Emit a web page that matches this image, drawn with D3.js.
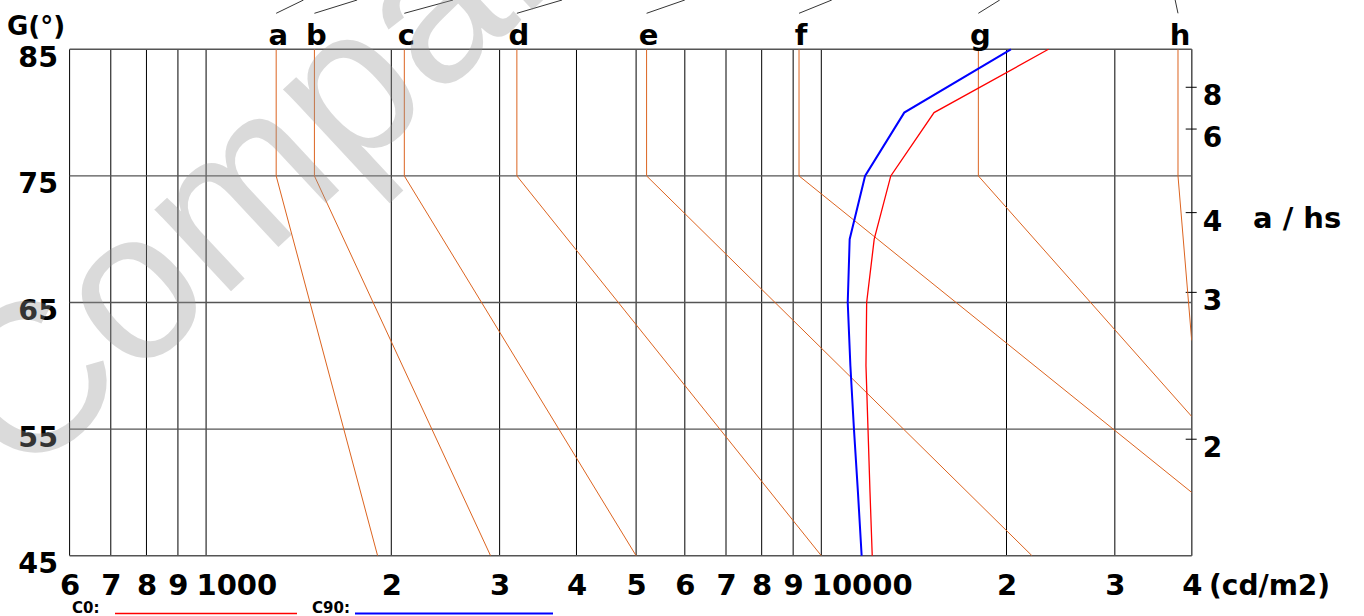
<!DOCTYPE html>
<html>
<head>
<meta charset="utf-8">
<script src="https://cdn.jsdelivr.net/npm/d3@7"></script>
<style>
  body { margin: 0; background: #fff; }
  svg text { font-family: "DejaVu Sans", Verdana, sans-serif; font-weight: bold; fill: #000; }
</style>
</head>
<body>
<svg id="chart" width="1364" height="616"></svg>
<script>
// luminance axis (cd/m2), log
var lumTicks = [600, 700, 800, 900, 1000, 2000, 3000, 4000, 5000, 6000, 7000, 8000, 9000, 10000, 20000, 30000, 40000];
var lumTickLabels = ["6", "7", "8", "9", "1000", "2", "3", "4", "5", "6", "7", "8", "9", "10000", "2", "3", "4"];

// G angle axis
var gTicks = [85, 75, 65, 55, 45];

// a / hs axis on the right, labels and the G value they sit at
var ahsLabels = ["8", "6", "4", "3", "2"];
var ahsAtG = [82.0, 78.7, 72.1, 65.8, 54.2];

// the orange a..h lines: luminance at top (85 to 75), then slanting to an end point
var lineNames = ["a", "b", "c", "d", "e", "f", "g", "h"];
var lineTop = [1300, 1500, 2100, 3200, 5200, 9200, 18000, 38000];
var lineEnd = [1900, 2900, 5000, 10000, 22000, 40000, 40000, 40000];
var lineEndG = [45, 45, 45, 45, 45, 50, 56, 62];
var leaderEnd = [1440, 1760, 2520, 3790, 6000, 10400, 19500, 37600];

// luminance curves
var curveG = [85, 80, 75, 70, 65, 60, 55, 50, 45];
var c0 = [23400, 15250, 12970, 12190, 11850, 11820, 11910, 12000, 12100];
var c90 = [20330, 13640, 11780, 11120, 11040, 11150, 11300, 11470, 11630];

var svg = d3.select("#chart");

var x = d3.scaleLog().domain([600, 40000]).range([69.6, 1191.7]);
var y = d3.scaleLinear().domain([45, 85]).range([555.7, 49.3]);

var plotLeft = x(600), plotRight = x(40000), plotTop = y(85), plotBottom = y(45);

svg.append("clipPath").attr("id", "plot")
    .append("rect")
    .attr("x", plotLeft).attr("y", plotTop)
    .attr("width", plotRight - plotLeft).attr("height", plotBottom - plotTop);

// vertical grid
svg.append("g").selectAll("line")
    .data(lumTicks)
    .enter().append("line")
    .attr("x1", function(d) { return x(d); })
    .attr("x2", function(d) { return x(d); })
    .attr("y1", plotTop).attr("y2", plotBottom)
    .attr("stroke", "#000").attr("stroke-width", 1);

// horizontal grid
svg.append("g").selectAll("line")
    .data(gTicks)
    .enter().append("line")
    .attr("x1", plotLeft).attr("x2", plotRight)
    .attr("y1", function(d) { return y(d); })
    .attr("y2", function(d) { return y(d); })
    .attr("stroke", "#555").attr("stroke-width", 1.4);

svg.append("line")
    .attr("x1", plotRight).attr("x2", plotRight).attr("y1", plotTop).attr("y2", plotBottom)
    .attr("stroke", "#555").attr("stroke-width", 1.4);

// right axis ticks and labels
var ahs = svg.append("g");
ahs.selectAll("line")
    .data(ahsAtG)
    .enter().append("line")
    .attr("x1", plotRight - 6).attr("x2", plotRight + 5)
    .attr("y1", function(d) { return y(d); })
    .attr("y2", function(d) { return y(d); })
    .attr("stroke", "#000").attr("stroke-width", 1);
ahs.selectAll("text")
    .data(ahsAtG)
    .enter().append("text")
    .attr("x", plotRight + 11)
    .attr("y", function(d) { return y(d) + 18; })
    .style("font-size", "28px")
    .text(function(d, i) { return ahsLabels[i]; });

svg.append("text")
    .attr("x", 1253).attr("y", y(ahsAtG[2]) + 15)
    .style("font-size", "29px")
    .text("a / hs");

// left labels
svg.append("g").selectAll("text")
    .data(gTicks)
    .enter().append("text")
    .attr("x", 58)
    .attr("y", function(d) { return y(d) + 17.5; })
    .attr("text-anchor", "end")
    .style("font-size", "28.5px")
    .text(function(d) { return d; });

svg.append("text")
    .attr("x", 7).attr("y", 35)
    .style("font-size", "26px")
    .text("G(°)");

// bottom labels, first digit centred on the tick
svg.append("g").selectAll("text")
    .data(lumTicks)
    .enter().append("text")
    .attr("x", function(d) { return x(d); })
    .attr("y", plotBottom + 39)
    .attr("dx", "-0.33em")
    .style("font-size", "29px")
    .text(function(d, i) { return lumTickLabels[i]; });

svg.append("text")
    .attr("x", 1209).attr("y", plotBottom + 39)
    .style("font-size", "28px")
    .text("(cd/m2)");

// orange lines
var lines = lineNames.map(function(n, i) {
    return { name: n, pts: [[lineTop[i], 85], [lineTop[i], 75], [lineEnd[i], lineEndG[i]]], lead: leaderEnd[i], top: lineTop[i] };
});

var line = d3.line()
    .x(function(p) { return x(p[0]); })
    .y(function(p) { return y(p[1]); });

svg.append("g").attr("clip-path", "url(#plot)")
    .selectAll("path")
    .data(lines)
    .enter().append("path")
    .attr("d", function(d) { return line(d.pts); })
    .attr("fill", "none")
    .attr("stroke", "#dc6420")
    .attr("stroke-width", 1);

// small leader strokes above the letters
svg.append("g").selectAll("line")
    .data(lines)
    .enter().append("line")
    .attr("x1", function(d) { return x(d.top); })
    .attr("y1", 13.3)
    .attr("x2", function(d) { return x(d.lead); })
    .attr("y2", 0)
    .attr("stroke", "#000").attr("stroke-width", 0.8);

svg.append("g").selectAll("text")
    .data(lines)
    .enter().append("text")
    .attr("x", function(d) { return x(d.top) + 2; })
    .attr("y", 45)
    .attr("text-anchor", "middle")
    .style("font-size", "29px")
    .text(function(d) { return d.name; });

// C0 and C90 curves
var curve = d3.line()
    .x(function(d) { return x(d[0]); })
    .y(function(d) { return y(d[1]); });

svg.append("path")
    .attr("d", curve(c0.map(function(v, i) { return [v, curveG[i]]; })))
    .attr("fill", "none").attr("stroke", "#ff0000").attr("stroke-width", 1.3);

svg.append("path")
    .attr("d", curve(c90.map(function(v, i) { return [v, curveG[i]]; })))
    .attr("fill", "none").attr("stroke", "#0000ff").attr("stroke-width", 2);

// legend
var legend = svg.append("g").style("font-size", "15px");
legend.append("text").attr("x", 72).attr("y", 613).text("C0:");
legend.append("line").attr("x1", 115).attr("x2", 297).attr("y1", 613.5).attr("y2", 613.5)
    .attr("stroke", "#ff0000").attr("stroke-width", 1.3);
legend.append("text").attr("x", 312).attr("y", 613).text("C90:");
legend.append("line").attr("x1", 355).attr("x2", 553).attr("y1", 613.5).attr("y2", 613.5)
    .attr("stroke", "#0000ff").attr("stroke-width", 2);

// watermark over everything
svg.append("text")
    .attr("transform", "translate(22,486) rotate(-43)")
    .style("font-family", "'Liberation Sans', Arial, sans-serif")
    .style("font-weight", "normal")
    .style("font-size", "212px")
    .style("fill", "rgba(150,150,150,0.35)")
    .text("Compare");
</script>
</body>
</html>
